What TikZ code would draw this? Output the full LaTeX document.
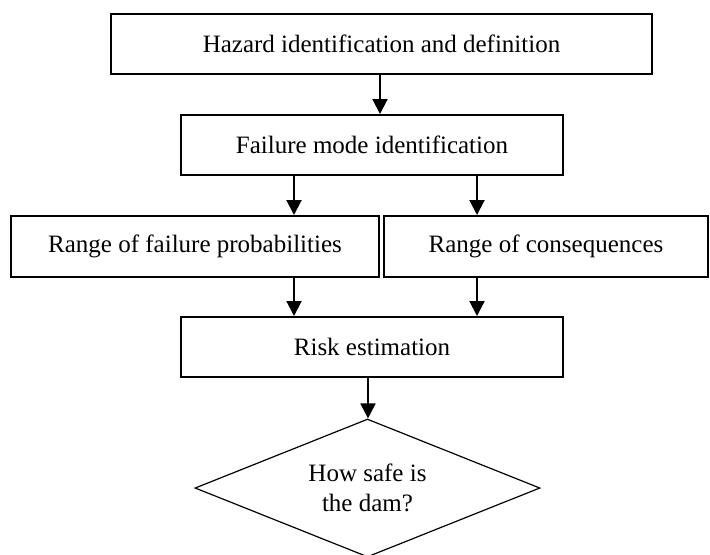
\documentclass[tikz,border=0pt]{standalone}
\usepackage{fontspec}
\setmainfont{Liberation Serif}
\usepackage{tikz}
\usetikzlibrary{arrows.meta,shapes.geometric}

\begin{document}
\begin{tikzpicture}[x=0.5pt, y=-0.5pt,
		box_style/.style={rectangle,draw=black,line width=1pt,fill=white,inner sep=0pt,font=\fontsize{12.5}{15}\selectfont},
		decision_style/.style={diamond,draw=black,line width=0.6pt,inner sep=0pt,shape aspect=2.5,align=center,minimum width=172.5pt,minimum height=69pt,font=\fontsize{12.5}{15}\selectfont},
		edge_style/.style={draw=black,line width=1pt,-{Triangle[width=7.5pt,length=7.5pt]}}]
		
		\useasboundingbox (0,0) rectangle (710,554);
		
		\node[box_style,minimum width=270.5pt,minimum height=30pt] (haz) at (381.5,44)  {Hazard identification and definition};
		\node[box_style,minimum width=191pt,minimum height=30pt] (fmode) at (372,145)  {Failure mode identification};
		\node[box_style,minimum width=184pt,minimum height=30.5pt] (probs) at (195,246.5)  {Range of failure probabilities};
		\node[box_style,minimum width=162pt,minimum height=30.5pt] (cons) at (546,246.5)  {Range of consequences};
		\node[box_style,minimum width=191pt,minimum height=30pt] (risk) at (372,347)  {Risk estimation};
		\node[decision_style] (safe) at (367.5,488)  {How safe is\\the dam?};
		
		\coordinate (la) at (294,0);
		\coordinate (ra) at (477,0);
		\coordinate (ma) at (380,0);
		\coordinate (da) at (368,0);

		\draw[edge_style]  (haz.south -| ma) -- (fmode.north -| ma);
		\draw[edge_style]  (fmode.south -| la) -- (probs.north -| la);
		\draw[edge_style]  (fmode.south -| ra) -- (cons.north -| ra);
		\draw[edge_style]  (probs.south -| la) -- (risk.north -| la);
		\draw[edge_style]  (cons.south -| ra) -- (risk.north -| ra);
		\draw[edge_style]  (risk.south -| da) -- (safe.north -| da);
\end{tikzpicture}
\end{document}
